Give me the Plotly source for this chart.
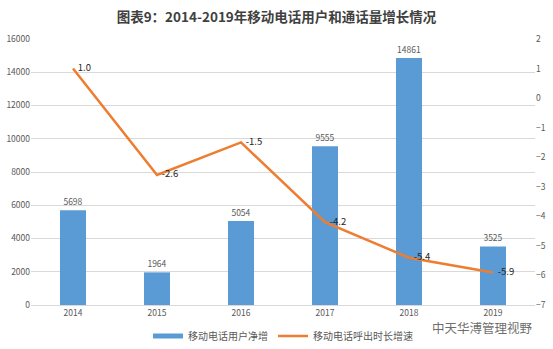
import plotly.graph_objects as go

years = ["2014", "2015", "2016", "2017", "2018", "2019"]
net_users = [5698, 1964, 5054, 9555, 14861, 3525]
call_growth = [1.0, -2.6, -1.5, -4.2, -5.4, -5.9]
bar_name = "移动电话用户净增"
line_name = "移动电话呼出时长增速"
title_text = "图表9：2014-2019年移动电话用户和通话量增长情况"
left_ticks = [0, 2000, 4000, 6000, 8000, 10000, 12000, 14000, 16000]
right_ticks = [-7, -6, -5, -4, -3, -2, -1, 0, 1, 2]
watermark = "中天华溥管理视野"

BLUE = "#5b9bd5"
ORANGE = "#ed7d31"
FONT = "Noto Sans CJK SC"

fig = go.Figure()
fig.add_trace(go.Bar(
    x=years, y=net_users, width=0.31, marker=dict(color=BLUE, line=dict(width=0)),
    text=[str(v) for v in net_users], textposition="outside", cliponaxis=False,
    textfont=dict(size=8.5, color="#595959"), name=bar_name, showlegend=False,
))
fig.add_trace(go.Scatter(
    x=[None], y=[None], mode="lines", line=dict(color=BLUE, width=5),
    name=bar_name, showlegend=True,
))
fig.add_trace(go.Scatter(
    x=years, y=call_growth, yaxis="y2", mode="lines+text",
    line=dict(color=ORANGE, width=2.5),
    text=[f"\u2002{v:.1f}" for v in call_growth], textposition="middle right",
    textfont=dict(size=9.5, color="#262626"), name=line_name, cliponaxis=False,
))

fig.update_layout(
    width=553, height=349,
    margin=dict(l=31, r=18, t=39, b=44, autoexpand=False),
    paper_bgcolor="white", plot_bgcolor="white",
    font=dict(family=FONT, color="#595959", size=8.5),
    title=dict(text=f"<b>{title_text}</b>", x=0.5, xanchor="center", y=0.95, yanchor="middle",
               font=dict(size=13.5, color="#404040", family=FONT)),
    xaxis=dict(type="category", showgrid=False, showline=True, linecolor="#d9d9d9",
               ticks="", tickfont=dict(size=8.5, color="#595959")),
    yaxis=dict(range=[0, 16000], tickvals=left_ticks, tickformat="d", showgrid=True, gridcolor="#d9d9d9",
               zeroline=False, ticks="", tickfont=dict(size=8.5, color="#595959")),
    yaxis2=dict(range=[-7, 2], tickvals=right_ticks, overlaying="y", side="right",
                showgrid=False, zeroline=False, ticks="", tickfont=dict(size=8.5, color="#595959")),
    legend=dict(orientation="h", x=0.5, xanchor="center", yref="container", y=0.037, yanchor="middle",
                font=dict(size=10, color="#595959"), itemwidth=30, tracegroupgap=0),
    showlegend=True,
)
fig.add_annotation(text=watermark, xref="paper", yref="paper",
                   x=1.0, xanchor="right", y=-0.085, yanchor="middle", showarrow=False,
                   font=dict(size=12.5, color="rgba(70,70,70,0.8)", family=FONT))
fig.write_html("out.html")
